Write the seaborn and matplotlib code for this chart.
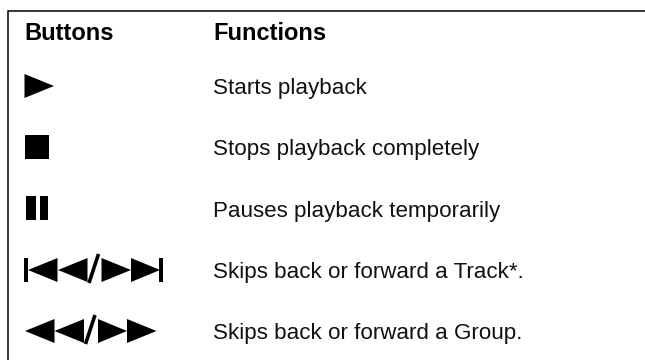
import matplotlib
matplotlib.use("Agg")
import matplotlib.pyplot as plt
import seaborn as sns
from matplotlib.patches import Polygon, Rectangle

sns.set_theme(style="white")
plt.rcParams['font.family'] = ['Liberation Sans', 'DejaVu Sans']

headers = ["Buttons", "Functions"]
functions = [
    "Starts playback",
    "Stops playback completely",
    "Pauses playback temporarily",
    "Skips back or forward a Track*.",
    "Skips back or forward a Group.",
]
header_base = 40
text_base = [94, 155, 217, 278, 339]
row_y = [86, 147, 208, 270, 331]

W, H = 645, 360
fig = plt.figure(figsize=(W / 100, H / 100), dpi=100)
ax = fig.add_axes([0, 0, 1, 1])
ax.set_xlim(0, W)
ax.set_ylim(H, 0)
ax.axis("off")

# frame
ax.plot([7.5, 7.5, 645], [360, 10.5, 10.5], color="black", lw=1.1, solid_joinstyle="miter")


def tri(x0, x1, cy, h=12):
    # x0 is the flat side, x1 the tip
    ax.add_patch(Polygon([(x0, cy - h), (x1, cy), (x0, cy + h)], fc="black", ec="none"))


def bar(x0, x1, cy, h):
    ax.add_patch(Rectangle((x0, cy - h), x1 - x0, 2 * h, fc="black", ec="none"))


def slash(x0, y0, x1, y1):
    ax.plot([x0, x1], [y0, y1], color="black", lw=2.6, solid_capstyle="butt")


# play
tri(24.5, 54, row_y[0])
# stop
bar(24.5, 48.5, row_y[1], 12)
# pause
bar(25.5, 35.5, row_y[2], 12)
bar(39.5, 47.5, row_y[2], 12)
# skip track
c = row_y[3]
bar(24, 28, c, 12)
tri(57.5, 28, c)
tri(87.5, 58, c)
slash(89, 283, 98.5, 254)
tri(101.5, 131, c)
tri(131, 160, c)
bar(159, 163, c, 12)
# skip group
c = row_y[4]
tri(54.5, 25, c)
tri(84, 54.5, c)
slash(85.5, 344, 95, 315)
tri(98, 127, c)
tri(127, 156.5, c)

ax.text(24, header_base, headers[0], fontsize=17, fontweight="bold", color="black", va="baseline")
ax.text(213, header_base, headers[1], fontsize=17, fontweight="bold", color="black", va="baseline")
for y, label in zip(text_base, functions):
    ax.text(213, y, label, fontsize=16.1, color="#111111", va="baseline")

fig.savefig("out.png", dpi=100)
